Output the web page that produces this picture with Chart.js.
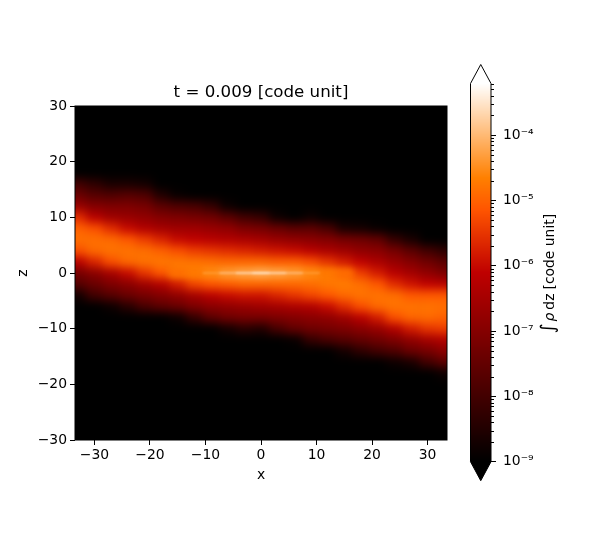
<!DOCTYPE html>
<html>
<head>
<meta charset="utf-8">
<title>t = 0.009</title>
<script src="https://cdn.jsdelivr.net/npm/chart.js@4"></script>
<style>
    body { margin: 0; background: #fff; }
    canvas { position: absolute; left: 0; top: 0; }
</style>
</head>
<body>
<canvas id="heatChart" width="600" height="540"></canvas>
<canvas id="barChart" width="600" height="540"></canvas>
<script>
// centros das células
const xCols = [-33, -30, -27, -24, -21, -18, -15, -12, -9, -6, -3, 0, 3, 6, 9, 12, 15, 18, 21, 24, 27, 30, 33];
const zRows = [18, 16, 14, 12, 10, 8, 6, 4, 2, 0, -2, -4, -6, -8, -10, -12, -14, -16, -18];

// log10 da densidade, uma lista por coluna (mesma ordem de zRows)
const logDensity = [
    [-9.0, -8.0, -7.4, -6.7, -5.6, -5.0, -4.85, -5.2, -6.2, -7.2, -7.7, -8.7, -9.5, -9.5, -9.5, -9.5, -9.5, -9.5, -9.5],
    [-9.5, -8.3, -7.7, -7.0, -6.2, -5.2, -4.85, -4.9, -5.7, -6.9, -7.4, -8.0, -9.3, -9.5, -9.5, -9.5, -9.5, -9.5, -9.5],
    [-9.5, -8.6, -7.8, -7.1, -6.6, -5.6, -4.9, -4.8, -5.2, -6.5, -7.1, -7.7, -8.8, -9.5, -9.5, -9.5, -9.5, -9.5, -9.5],
    [-9.5, -8.6, -7.7, -7.1, -6.7, -6.0, -5.1, -4.8, -4.9, -6.0, -6.9, -7.4, -8.4, -9.5, -9.5, -9.5, -9.5, -9.5, -9.5],
    [-9.5, -8.7, -7.8, -7.2, -6.8, -6.3, -5.4, -4.85, -4.8, -5.5, -6.6, -7.2, -7.9, -9.4, -9.5, -9.5, -9.5, -9.5, -9.5],
    [-9.5, -9.5, -8.5, -7.6, -7.0, -6.5, -5.7, -5.0, -4.75, -5.1, -6.3, -7.0, -7.6, -9.0, -9.5, -9.5, -9.5, -9.5, -9.5],
    [-9.5, -9.5, -8.9, -7.8, -7.1, -6.6, -6.0, -5.2, -4.75, -4.75, -5.8, -6.8, -7.4, -8.8, -9.5, -9.5, -9.5, -9.5, -9.5],
    [-9.5, -9.5, -9.0, -7.9, -7.2, -6.6, -6.1, -5.4, -4.8, -4.65, -5.3, -6.5, -7.1, -8.2, -9.5, -9.5, -9.5, -9.5, -9.5],
    [-9.5, -9.5, -9.4, -8.2, -7.3, -6.7, -6.2, -5.5, -4.85, -4.55, -5.1, -6.2, -6.9, -7.6, -9.2, -9.5, -9.5, -9.5, -9.5],
    [-9.5, -9.5, -9.5, -8.8, -7.6, -6.8, -6.3, -5.6, -4.9, -4.45, -5.0, -6.0, -6.8, -7.3, -8.7, -9.5, -9.5, -9.5, -9.5],
    [-9.5, -9.5, -9.5, -9.3, -8.0, -7.1, -6.4, -5.7, -4.9, -4.4, -4.9, -5.9, -6.7, -7.2, -8.4, -9.5, -9.5, -9.5, -9.5],
    [-9.5, -9.5, -9.5, -9.4, -8.2, -7.2, -6.5, -5.8, -4.9, -4.35, -4.9, -5.9, -6.6, -7.2, -8.5, -9.5, -9.5, -9.5, -9.5],
    [-9.5, -9.5, -9.5, -9.5, -8.8, -7.4, -6.7, -5.9, -5.0, -4.4, -4.9, -5.7, -6.5, -7.1, -7.9, -9.3, -9.5, -9.5, -9.5],
    [-9.5, -9.5, -9.5, -9.5, -9.0, -7.6, -6.8, -6.0, -5.0, -4.45, -4.9, -5.5, -6.4, -7.0, -7.5, -8.9, -9.5, -9.5, -9.5],
    [-9.5, -9.5, -9.5, -9.5, -8.8, -7.6, -6.9, -6.2, -5.2, -4.55, -4.85, -5.3, -6.3, -6.9, -7.3, -8.2, -9.4, -9.5, -9.5],
    [-9.5, -9.5, -9.5, -9.5, -9.2, -7.9, -7.0, -6.4, -5.5, -4.7, -4.75, -5.1, -6.0, -6.8, -7.2, -7.9, -9.0, -9.5, -9.5],
    [-9.5, -9.5, -9.5, -9.5, -9.5, -8.6, -7.2, -6.6, -5.8, -4.95, -4.7, -4.9, -5.6, -6.6, -7.1, -7.7, -8.7, -9.5, -9.5],
    [-9.5, -9.5, -9.5, -9.5, -9.5, -8.7, -7.3, -6.8, -6.1, -5.4, -4.85, -4.8, -5.2, -6.2, -6.9, -7.5, -8.3, -9.3, -9.5],
    [-9.5, -9.5, -9.5, -9.5, -9.5, -8.9, -7.5, -6.9, -6.4, -5.8, -5.1, -4.8, -4.9, -5.8, -6.7, -7.3, -8.0, -9.0, -9.5],
    [-9.5, -9.5, -9.5, -9.5, -9.5, -9.5, -8.2, -7.2, -6.7, -6.2, -5.6, -4.85, -4.8, -5.2, -6.3, -7.1, -7.8, -8.8, -9.5],
    [-9.5, -9.5, -9.5, -9.5, -9.5, -9.5, -8.6, -7.6, -7.0, -6.5, -5.9, -5.1, -4.8, -4.95, -5.8, -6.8, -7.4, -8.6, -9.5],
    [-9.5, -9.5, -9.5, -9.5, -9.5, -9.5, -9.2, -8.0, -7.3, -6.8, -6.1, -5.1, -4.8, -4.9, -5.5, -6.5, -7.2, -8.0, -9.3],
    [-9.5, -9.5, -9.5, -9.5, -9.5, -9.5, -9.5, -8.3, -7.6, -7.1, -6.2, -5.1, -4.85, -5.0, -5.4, -6.3, -6.9, -7.6, -8.8]
];

// brilho em volta de z = 0 e o filete fino no meio
const glowX = [-15, -12, -9, -6, -3, 0, 3, 6, 9, 12, 15];
const glowLog = [-4.85, -4.75, -4.6, -4.4, -4.25, -4.15, -4.25, -4.4, -4.6, -4.75, -4.85];
const coreX = [-9, -6, -3, 0, 3, 6, 9];
const coreLog = [-4.35, -3.95, -3.6, -3.35, -3.6, -3.95, -4.35];

const xTicks = [-30, -20, -10, 0, 10, 20, 30];
const zTicks = [-30, -20, -10, 0, 10, 20, 30];
const barMajor = [1e-9, 1e-8, 1e-7, 1e-6, 1e-5, 1e-4];
const barMinorFactors = [2, 3, 4, 5, 6, 7, 8, 9];

const logMin = -9;
const logMax = -3.21;
const FONT = "'DejaVu Sans'";
const SUPER = { '-': '⁻', '0': '⁰', '1': '¹', '2': '²', '3': '³', '4': '⁴', '5': '⁵', '6': '⁶', '7': '⁷', '8': '⁸', '9': '⁹' };

// mapa de cores gist_heat
function heatColor(logValue) {
    const t = Math.min(1, Math.max(0, (logValue - logMin) / (logMax - logMin)));
    const r = Math.min(1, 1.5 * t);
    const g = Math.min(1, Math.max(0, 2 * t - 1));
    const b = Math.min(1, Math.max(0, 4 * t - 3));
    return `rgb(${Math.round(r * 255)},${Math.round(g * 255)},${Math.round(b * 255)})`;
}

function axisTick(v) {
    return v < 0 ? '\u2212' + (-v) : String(v);
}

// pontos da figura: uma célula por par (x, z)
const cellData = [];
xCols.forEach((x, i) => {
    zRows.forEach((z, j) => {
        cellData.push({ x: x, y: z, v: logDensity[i][j] });
    });
});
const glowData = glowX.map((x, i) => ({ x: x, y: 0, v: glowLog[i] }));
const coreData = coreX.map((x, i) => ({ x: x, y: 0, v: coreLog[i] }));

function thinLayer(chart, cells, halfHeight) {
    const { scales } = chart;
    const layer = document.createElement('canvas');
    layer.width = chart.width;
    layer.height = chart.height;
    const lc = layer.getContext('2d');
    cells.forEach(c => {
        const px0 = scales.x.getPixelForValue(c.x - 1.5);
        const px1 = scales.x.getPixelForValue(c.x + 1.5);
        const py0 = scales.y.getPixelForValue(c.y + halfHeight);
        const py1 = scales.y.getPixelForValue(c.y - halfHeight);
        lc.fillStyle = heatColor(c.v);
        lc.fillRect(px0, py0, px1 - px0 + 0.5, py1 - py0);
    });
    return layer;
}

// desenha as células usando as escalas do gráfico
const cellPlugin = {
    id: 'cells',
    beforeDatasetsDraw(chart) {
        const { ctx, chartArea, scales } = chart;
        const off = document.createElement('canvas');
        off.width = chart.width;
        off.height = chart.height;
        const oc = off.getContext('2d');
        oc.fillStyle = '#000';
        oc.fillRect(0, 0, off.width, off.height);
        chart.data.datasets[0].data.forEach(c => {
            // as colunas das pontas passam da borda para o blur não escurecer
            const x0 = c.x === xCols[0] ? -40 : c.x - 1.5;
            const x1 = c.x === xCols[xCols.length - 1] ? 40 : c.x + 1.5;
            const px0 = scales.x.getPixelForValue(x0);
            const px1 = scales.x.getPixelForValue(x1);
            const py0 = scales.y.getPixelForValue(c.y + 1);
            const py1 = scales.y.getPixelForValue(c.y - 1);
            oc.fillStyle = heatColor(c.v);
            oc.fillRect(px0, py0, px1 - px0 + 0.5, py1 - py0 + 0.5);
        });

        ctx.save();
        ctx.beginPath();
        ctx.rect(chartArea.left, chartArea.top, chartArea.width, chartArea.height);
        ctx.clip();
        ctx.filter = 'blur(5px)';
        ctx.drawImage(off, 0, 0);
        ctx.filter = 'blur(3px)';
        ctx.drawImage(thinLayer(chart, chart.data.datasets[1].data, 0.6), 0, 0);
        ctx.filter = 'blur(0.8px)';
        ctx.drawImage(thinLayer(chart, chart.data.datasets[2].data, 0.15), 0, 0);
        ctx.restore();
    },
    afterDatasetsDraw(chart) {
        const { ctx, chartArea } = chart;
        ctx.save();
        ctx.strokeStyle = '#000';
        ctx.lineWidth = 1;
        ctx.strokeRect(chartArea.left, chartArea.top, chartArea.width, chartArea.height);
        ctx.restore();
    }
};

new Chart(document.getElementById('heatChart').getContext('2d'), {
    type: 'scatter',
    data: {
        datasets: [
            { label: 'cells', data: cellData, pointRadius: 0 },
            { label: 'glow', data: glowData, pointRadius: 0 },
            { label: 'core', data: coreData, pointRadius: 0 }
        ]
    },
    plugins: [cellPlugin],
    options: {
        responsive: false,
        animation: false,
        devicePixelRatio: 1,
        layout: { padding: { left: 0, right: 153, top: 0, bottom: 0 } },
        plugins: {
            legend: { display: false },
            tooltip: { enabled: false },
            title: {
                display: true,
                fullSize: false,
                text: 't = 0.009 [code unit]',
                color: '#000',
                font: { family: FONT, size: 16.67, weight: 'normal' },
                padding: { top: 83, bottom: 3 }
            }
        },
        scales: {
            x: {
                type: 'linear',
                min: -33.5,
                max: 33.5,
                afterBuildTicks: scale => { scale.ticks = xTicks.map(v => ({ value: v })); },
                afterFit: scale => { scale.height = 100; },
                border: { display: false },
                grid: { drawOnChartArea: false, tickLength: 5, tickColor: '#000', tickWidth: 1 },
                ticks: { color: '#000', font: { family: FONT, size: 13.9 }, maxRotation: 0, padding: 2, callback: axisTick },
                title: { display: true, text: 'x', color: '#000', font: { family: FONT, size: 13.9 }, padding: { top: 2, bottom: 56 } }
            },
            y: {
                type: 'linear',
                min: -30,
                max: 30,
                afterBuildTicks: scale => { scale.ticks = zTicks.map(v => ({ value: v })); },
                afterFit: scale => { scale.width = 75; },
                border: { display: false },
                grid: { drawOnChartArea: false, tickLength: 5, tickColor: '#000', tickWidth: 1 },
                ticks: { color: '#000', font: { family: FONT, size: 13.9 }, padding: 3, callback: axisTick },
                title: { display: true, text: 'z', color: '#000', font: { family: FONT, size: 13.9 }, padding: { top: 15, bottom: 0 } }
            }
        }
    }
});

const barPlugin = {
    id: 'colorbar',
    beforeDatasetsDraw(chart) {
        const { ctx, chartArea: a, scales } = chart;
        const s = scales.y;
        const midX = (a.left + a.right) / 2;
        ctx.save();
        for (let py = Math.floor(a.top); py < a.bottom; py++) {
            const value = s.getValueForPixel(py + 0.5);
            ctx.fillStyle = heatColor(Math.log10(value));
            ctx.fillRect(a.left, py, a.width, 1);
        }
        // pontas de extensão
        ctx.strokeStyle = '#000';
        ctx.lineWidth = 1;
        ctx.fillStyle = '#fff';
        ctx.beginPath();
        ctx.moveTo(a.left, a.top);
        ctx.lineTo(midX, a.top - 19);
        ctx.lineTo(a.right, a.top);
        ctx.closePath();
        ctx.fill();
        ctx.fillStyle = '#000';
        ctx.beginPath();
        ctx.moveTo(a.left, a.bottom);
        ctx.lineTo(midX, a.bottom + 19);
        ctx.lineTo(a.right, a.bottom);
        ctx.closePath();
        ctx.fill();
        // contorno
        ctx.beginPath();
        ctx.moveTo(a.left, a.top);
        ctx.lineTo(midX, a.top - 19);
        ctx.lineTo(a.right, a.top);
        ctx.lineTo(a.right, a.bottom);
        ctx.lineTo(midX, a.bottom + 19);
        ctx.lineTo(a.left, a.bottom);
        ctx.closePath();
        ctx.stroke();
        // ticks menores
        s.ticks.forEach(t => {
            if (t.major) return;
            const py = Math.round(s.getPixelForValue(t.value)) + 0.5;
            ctx.beginPath();
            ctx.moveTo(a.right, py);
            ctx.lineTo(a.right + 3, py);
            ctx.stroke();
        });
        // rótulo do eixo em pedaços, girado
        const parts = [
            { text: '∫', font: `19px ${FONT}`, gap: 2 },
            { text: 'ρ', font: `italic 13.9px ${FONT}`, gap: 3 },
            { text: 'dz', font: `13.9px ${FONT}`, gap: 4 },
            { text: '[code unit]', font: `13.9px ${FONT}`, gap: 0 }
        ];
        let total = 0;
        parts.forEach(p => {
            ctx.font = p.font;
            p.w = ctx.measureText(p.text).width;
            total += p.w + p.gap;
        });
        ctx.translate(554, (a.top + a.bottom) / 2 + 1);
        ctx.rotate(-Math.PI / 2);
        ctx.fillStyle = '#000';
        ctx.textBaseline = 'alphabetic';
        let pos = -total / 2;
        parts.forEach(p => {
            ctx.font = p.font;
            ctx.fillText(p.text, pos, 0);
            pos += p.w + p.gap;
        });
        ctx.restore();
    }
};

const barTicks = [];
barMajor.forEach(m => {
    barTicks.push({ value: m, major: true });
    barMinorFactors.forEach(f => {
        if (m * f < Math.pow(10, logMax)) {
            barTicks.push({ value: m * f, major: false });
        }
    });
});

new Chart(document.getElementById('barChart').getContext('2d'), {
    type: 'scatter',
    data: { datasets: [{ label: 'colorbar', data: [], pointRadius: 0 }] },
    plugins: [barPlugin],
    options: {
        responsive: false,
        animation: false,
        devicePixelRatio: 1,
        layout: { padding: { left: 470.5, right: 0, top: 83.5, bottom: 78.3 } },
        plugins: { legend: { display: false }, tooltip: { enabled: false } },
        scales: {
            x: { type: 'linear', display: false },
            y: {
                type: 'logarithmic',
                position: 'right',
                min: Math.pow(10, logMin),
                max: Math.pow(10, logMax),
                afterBuildTicks: scale => { scale.ticks = barTicks.map(t => ({ value: t.value, major: t.major })); },
                afterFit: scale => { scale.width = 109; },
                border: { display: false },
                grid: {
                    drawOnChartArea: false,
                    tickLength: 5,
                    tickWidth: 1,
                    tickColor: c => (c.tick && c.tick.major ? '#000' : 'rgba(0,0,0,0)')
                },
                ticks: {
                    color: '#000',
                    autoSkip: false,
                    padding: 7,
                    font: { family: FONT, size: 13.9 },
                    callback: v => {
                        const exp = Math.round(Math.log10(v));
                        if (Math.abs(Math.log10(v) - exp) > 1e-6) return '';
                        return '10' + String(exp).split('').map(ch => SUPER[ch]).join('');
                    }
                }
            }
        }
    }
});
</script>
</body>
</html>
